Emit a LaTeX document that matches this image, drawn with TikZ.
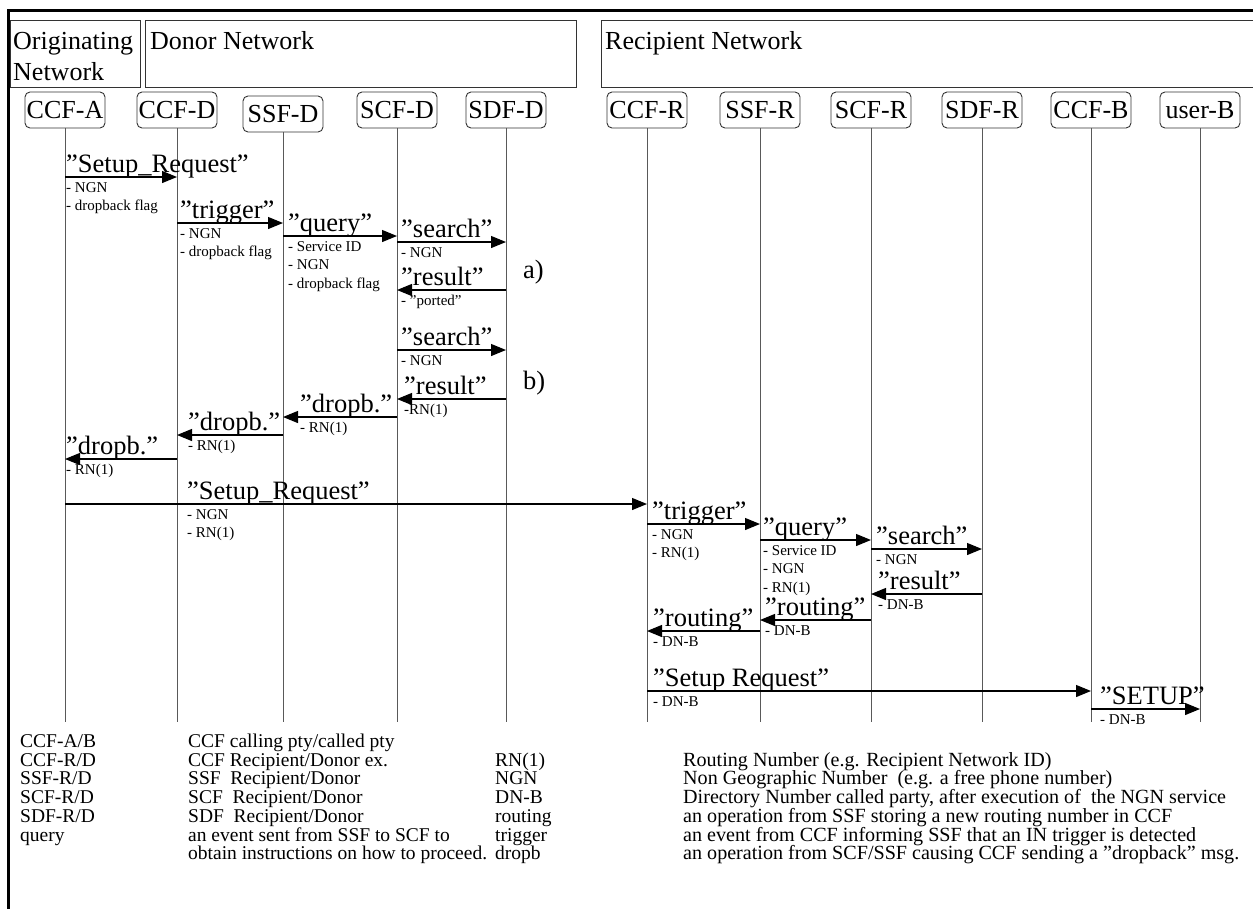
\documentclass[tikz,border=0pt]{standalone}
\usepackage{fontspec}
\setmainfont{Liberation Serif}
\usetikzlibrary{arrows.meta}
\newcommand{\seqmsg}[6]{%
  \coordinate (r#3) at (0,#3);
  \draw[msg] (#1 |- r#3) -- (#2 |- r#3);
  \node[lab, anchor=base west] (l#3) at (#4,#3-5) {#5};
  \node[sub, anchor=north west] (s#3) at (#4,#3+3) {\rule{0pt}{12pt}#6};
}
\newcommand{\legfont}{\fontsize{19.5}{18.7}\selectfont\lineskiplimit-30pt\relax}
\newcommand{\legfontb}{\fontsize{20.1}{18.7}\selectfont\lineskiplimit-30pt\relax}
\begin{document}
\begin{tikzpicture}[x=1pt,y=-1pt,
  frame/.style={line width=3pt, black},
  hbox/.style={draw=black!80, line width=0.9pt},
  htext/.style={font=\fontsize{26}{31}\selectfont, inner sep=0pt, align=left},
  lbox/.style={draw=black!80, line width=0.9pt, rounded corners=5pt, minimum width=80pt, minimum height=36pt, inner sep=0pt, font=\fontsize{26}{28}\selectfont},
  lifeline/.style={draw=black!65, line width=1pt},
  msg/.style={draw=black, line width=1.2pt, -{Triangle[length=15pt,width=12pt]}},
  lab/.style={font=\fontsize{26.5}{28}\selectfont, inner sep=0pt},
  sub/.style={font=\fontsize{15}{18.5}\selectfont\lineskiplimit-30pt\relax, inner sep=0pt, align=left},
  leg/.style={font=\legfont, inner sep=0pt, align=left, anchor=base west}
]
\useasboundingbox (0,0) rectangle (1253,908);
% outer frame
\coordinate (ftl) at (8,10);
\coordinate (ftr) at (1256,10);
\coordinate (fbl) at (8,910);
\draw[frame] (ftr) -- (ftl) -- (fbl);
% header boxes
\draw[hbox] (10,20) rectangle (140,87);
\draw[hbox] (145,20) rectangle (576,87);
\draw[hbox] (601,20) rectangle (1258,87);
\node[htext, anchor=base west] (horig) at (13,80) {Originating\\Network};
\node[htext, anchor=base west] (hdon) at (150,49) {Donor Network};
\node[htext, anchor=base west] (hrec) at (605,49) {Recipient Network};
% lifeline boxes
\node[lbox] (ccfa) at (65,110) {CCF-A};
\node[lbox] (ccfd) at (177,110) {CCF-D};
\node[lbox] (ssfd) at (283,114) {SSF-D};
\node[lbox] (scfd) at (397,110) {SCF-D};
\node[lbox] (sdfd) at (506,110) {SDF-D};
\node[lbox] (ccfr) at (647,110) {CCF-R};
\node[lbox] (ssfr) at (760,110) {SSF-R};
\node[lbox] (scfr) at (871,110) {SCF-R};
\node[lbox] (sdfr) at (982,110) {SDF-R};
\node[lbox] (ccfb) at (1091,110) {CCF-B};
\node[lbox] (userb) at (1200,110) {user-B};
\coordinate (bot) at (0,722);
\foreach \n in {ccfa,ccfd,ssfd,scfd,sdfd,ccfr,ssfr,scfr,sdfr,ccfb,userb}
  \draw[lifeline] (\n.south) -- (\n |- bot);
% messages, donor side
\seqmsg{ccfa}{ccfd}{177}{66}{”Setup\_Request”}{- NGN\\- dropback flag}
\seqmsg{ccfd}{ssfd}{223}{180}{”trigger”}{- NGN\\- dropback flag}
\seqmsg{ssfd}{scfd}{236}{288}{”query”}{- Service ID\\- NGN\\- dropback flag}
\seqmsg{scfd}{sdfd}{242}{401}{”search”}{- NGN}
\seqmsg{sdfd}{scfd}{290}{401}{”result”}{- ”ported”}
\node[lab, anchor=base west] (la) at (523,278) {a)};
\seqmsg{scfd}{sdfd}{350}{401}{”search”}{- NGN}
\node[lab, anchor=base west] (lb) at (523,389) {b)};
\seqmsg{sdfd}{scfd}{399}{404}{”result”}{-RN(1)}
\seqmsg{scfd}{ssfd}{417}{300}{”dropb.”}{- RN(1)}
\seqmsg{ssfd}{ccfd}{435}{188}{”dropb.”}{- RN(1)}
\seqmsg{ccfd}{ccfa}{459}{66}{”dropb.”}{- RN(1)}
\seqmsg{ccfa}{ccfr}{504}{187}{”Setup\_Request”}{- NGN\\- RN(1)}
% recipient side
\seqmsg{ccfr}{ssfr}{524}{652}{”trigger”}{- NGN\\- RN(1)}
\seqmsg{ssfr}{scfr}{540}{763}{”query”}{- Service ID\\- NGN\\- RN(1)}
\seqmsg{scfr}{sdfr}{549}{876}{”search”}{- NGN}
\seqmsg{sdfr}{scfr}{594}{878}{”result”}{- DN-B}
\seqmsg{scfr}{ssfr}{620}{765}{”routing”}{- DN-B}
\seqmsg{ssfr}{ccfr}{631}{653}{”routing”}{- DN-B}
\seqmsg{ccfr}{ccfb}{691}{653}{”Setup Request”}{- DN-B}
\seqmsg{ccfb}{userb}{709}{1100}{”SETUP”}{- DN-B}
% legend
\node[leg] (leg1) at (20,841) {CCF-A/B\\CCF-R/D\\SSF-R/D\\SCF-R/D\\SDF-R/D\\query};
\node[leg] (leg2) at (188,859.7) {CCF calling pty/called pty\\CCF Recipient/Donor ex.\\SSF\ \ Recipient/Donor\\SCF\ \ Recipient/Donor\\SDF\ \ Recipient/Donor\\an event sent from SSF to SCF to\\obtain instructions on how to proceed.};
\node[leg] (leg3) at (495,859.7) {RN(1)\\NGN\\DN-B\\routing\\trigger\\dropb};
\node[leg, font=\legfontb] (leg4) at (683,859.7) {Routing Number (e.g. Recipient Network ID)\\Non Geographic Number\ \ (e.g. a free phone number)\\Directory Number called party, after execution of\ \ the NGN service\\an operation from SSF storing a new routing number in CCF\\an event from CCF informing SSF that an IN trigger is detected\\an operation from SCF/SSF causing CCF sending a ”dropback” msg.};
\end{tikzpicture}
\end{document}
